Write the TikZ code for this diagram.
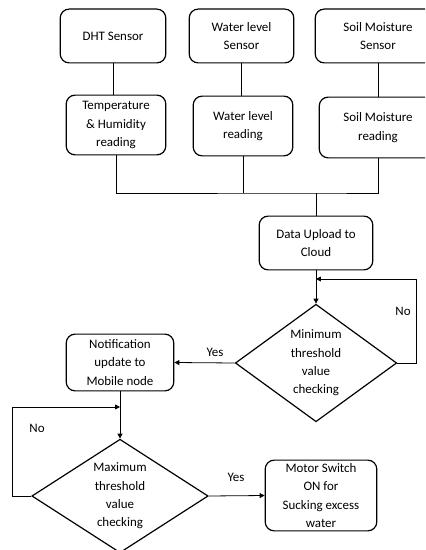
\documentclass[tikz,border=0pt]{standalone}
\usepackage{fontspec}
\setmainfont{Carlito}
\usetikzlibrary{shapes.geometric,arrows.meta}

\tikzset{
    block/.style={draw, line width=1.2pt, rounded corners=9pt, align=center, inner sep=2pt},
    check/.style={draw, diamond, line width=1.2pt, align=center, inner sep=0pt},
    link/.style={line width=0.8pt},
    flow/.style={line width=0.8pt, -{Triangle[length=5pt,width=5pt]}}
}

\begin{document}
\begin{tikzpicture}[x=1bp, y=-1bp, font=\fontsize{13}{18.5}\selectfont]
        \path[use as bounding box, clip] (0, 0) rectangle (425, 550);

        % sensors
        \node[block, minimum width=106, minimum height=54] (dht) at (113, 36) {DHT Sensor};
        \node[block, minimum width=105, minimum height=54] (wls) at (241.5, 36) {Water level\\Sensor};
        \node[block, minimum width=126, minimum height=54] (sms) at (378, 36) {Soil Moisture\\Sensor};

        % readings
        \node[block, minimum width=100, minimum height=60] (thr) at (116, 125) {Temperature\\\& Humidity\\reading};
        \node[block, minimum width=100, minimum height=60] (wlr) at (243, 126) {Water level\\reading};
        \node[block, minimum width=118, minimum height=61] (smr) at (378, 127.5) {Soil Moisture\\reading};

        \node[block, minimum width=114, minimum height=54] (upl) at (316, 243) {Data Upload to\\Cloud};
        \node[check, aspect=1.4, minimum width=162, minimum height=118] (mint) at (316, 363) {Minimum\\threshold\\value\\checking};
        \node[block, minimum width=108, minimum height=57] (notif) at (120, 362.5) {Notification\\update to\\Mobile node};
        \node[check, aspect=1.55, minimum width=177, minimum height=114] (maxt) at (120, 496) {Maximum\\threshold\\value\\checking};
        \node[block, minimum width=112, minimum height=71] (motor) at (321, 495.5) {Motor Switch\\ON for\\Sucking excess\\water};

        \node (no1) at (403, 311) {No};
        \node (yes1) at (215, 352) {Yes};
        \node (no2) at (37, 428) {No};
        \node (yes2) at (236, 477) {Yes};

        \coordinate (jn) at (316, 193);
        \coordinate (lp1) at (316, 279);
        \coordinate (lp2) at (120, 407);

        \draw[link] (dht.south) -- (dht.south |- thr.north);
        \draw[link] (wls.south) -- (wls.south |- wlr.north);
        \draw[link] (sms.south) -- (sms.south |- smr.north);

        \draw[link] (thr.south) |- (jn) -| (smr.south);
        \draw[link] (wlr.south) -- (wlr.south |- jn);
        \draw[link] (jn) -- (upl.north);

        \draw[flow] (upl.south) -- (mint.north);
        \draw[flow] (mint.east) -- ++(19, 0) |- (lp1);
        \draw[flow] (mint.west) -- (notif.east);
        \draw[flow] (notif.south) -- (maxt.north);
        \draw[flow] (maxt.west) -- ++(-19, 0) |- (lp2);
        \draw[flow] (maxt.east) -- (motor.west);
    \end{tikzpicture}
\end{document}
